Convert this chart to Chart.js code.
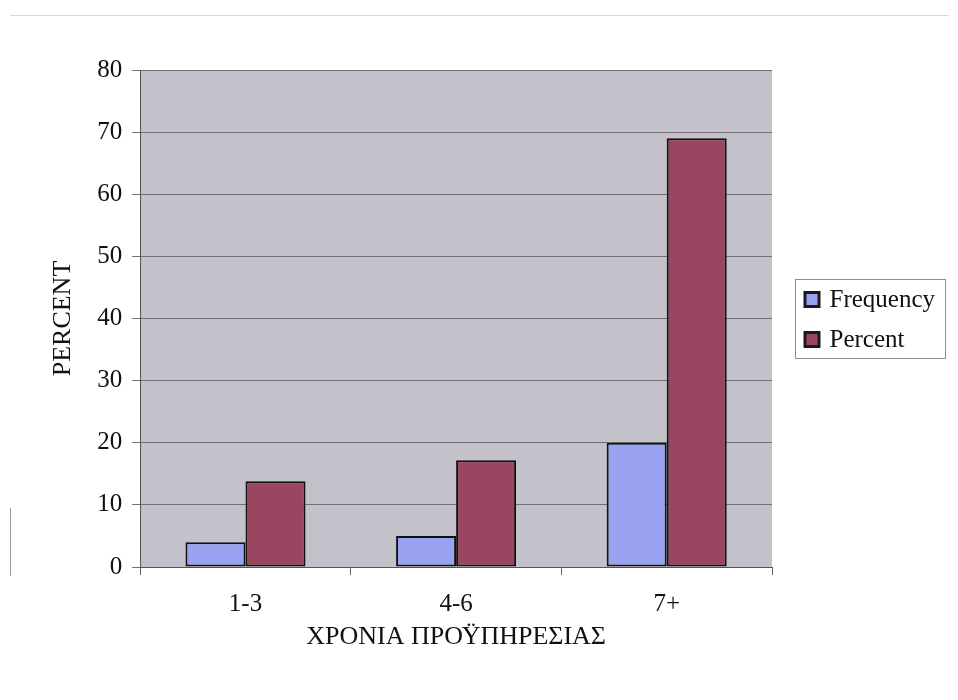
<!DOCTYPE html>
<html>
<head>
<meta charset="utf-8">
<script src="https://cdn.jsdelivr.net/npm/chart.js@4.4.0/dist/chart.umd.min.js"></script>
<style>
html,body{margin:0;padding:0;background:#fff;}
#wrap{width:958px;height:700px;position:relative;}
</style>
</head>
<body>
<div id="wrap"><canvas id="c" width="958" height="700"></canvas></div>
<script>
const categories = ["1-3", "4-6", "7+"];
const frequency = [4, 5, 20];
const percent = [13.8, 17.2, 69];
const yTicks = [0, 10, 20, 30, 40, 50, 60, 70, 80];

const FONT = "'Liberation Serif', 'Times New Roman', serif";

const plotBg = {
  id: 'plotBg',
  beforeDraw(chart) {
    const {ctx, chartArea: a} = chart;
    ctx.save();
    ctx.fillStyle = '#ffffff';
    ctx.fillRect(0, 0, chart.width, chart.height);
    ctx.fillStyle = '#c3c2cb';
    ctx.fillRect(a.left, a.top, a.right - a.left, a.bottom - a.top);
    ctx.strokeStyle = '#d8d8d8';
    ctx.lineWidth = 1;
    ctx.beginPath();
    ctx.moveTo(10.5, 15.5); ctx.lineTo(948.5, 15.5);
    ctx.stroke();
    ctx.strokeStyle = '#9a9a9a';
    ctx.beginPath();
    ctx.moveTo(10.5, 508); ctx.lineTo(10.5, 576);
    ctx.stroke();
    ctx.restore();
  },
  afterDraw(chart) {
    const {ctx, chartArea: a} = chart;
    const ds = chart.data.datasets;
    const boxW = 150, rowH = 40, boxH = 79;
    const left = Math.round(a.right + 23) + 0.5;
    const top = Math.round((a.top + a.bottom) / 2 - boxH / 2) + 0.5;
    ctx.save();
    ctx.strokeStyle = '#8c8c8c';
    ctx.lineWidth = 1;
    ctx.strokeRect(left, top, boxW, boxH);
    ctx.font = "25px " + FONT;
    ctx.textBaseline = 'middle';
    ctx.textAlign = 'left';
    ds.forEach((d, i) => {
      const cy = top + boxH / 2 + (i - (ds.length - 1) / 2) * rowH;
      ctx.fillStyle = '#1a1a1a';
      ctx.fillRect(left + 8, cy - 8, 17, 17);
      ctx.fillStyle = d.backgroundColor;
      ctx.fillRect(left + 11, cy - 5, 11, 11);
      ctx.fillStyle = '#111';
      ctx.fillText(d.label, left + 34, cy + 1);
    });
    ctx.restore();
  }
};

new Chart(document.getElementById('c'), {
  type: 'bar',
  data: {
    labels: categories,
    datasets: [
      { label: 'Frequency', data: frequency, backgroundColor: '#9aa3f2', borderColor: '#111', borderWidth: 2, borderSkipped: false },
      { label: 'Percent', data: percent, backgroundColor: '#9b4661', borderColor: '#111', borderWidth: 2, borderSkipped: false }
    ]
  },
  options: {
    responsive: false,
    animation: false,
    devicePixelRatio: 1,
    layout: { padding: { left: 48, right: 186, top: 70, bottom: 50 } },
    datasets: { bar: { categoryPercentage: 0.57, barPercentage: 1.0 } },
    plugins: {
      tooltip: { enabled: false },
      legend: { display: false }
    },
    scales: {
      x: {
        grid: { drawOnChartArea: false, drawTicks: true, tickLength: 8, color: '#666', offset: true },
        border: { display: true, color: '#555', width: 1 },
        ticks: { font: { family: FONT, size: 25, lineHeight: 0.88 }, color: '#111', padding: 18 },
        title: { display: true, text: 'ΧΡΟΝΙΑ ΠΡΟΫΠΗΡΕΣΙΑΣ', font: { family: FONT, size: 26, lineHeight: 1.0 }, color: '#111', padding: { top: -9, bottom: 0 } }
      },
      y: {
        min: 0, max: 80,
        afterBuildTicks(axis) { axis.ticks = yTicks.map(v => ({ value: v })); },
        grid: { color: '#6e6e74', tickLength: 8, lineWidth: 1 },
        border: { display: true, color: '#555', width: 1 },
        ticks: { font: { family: FONT, size: 25 }, color: '#111', padding: 10 },
        title: { display: true, text: 'PERCENT', font: { family: FONT, size: 26 }, color: '#111', padding: { top: 0, bottom: 8 } }
      }
    }
  },
  plugins: [plotBg]
});
</script>
</body>
</html>
